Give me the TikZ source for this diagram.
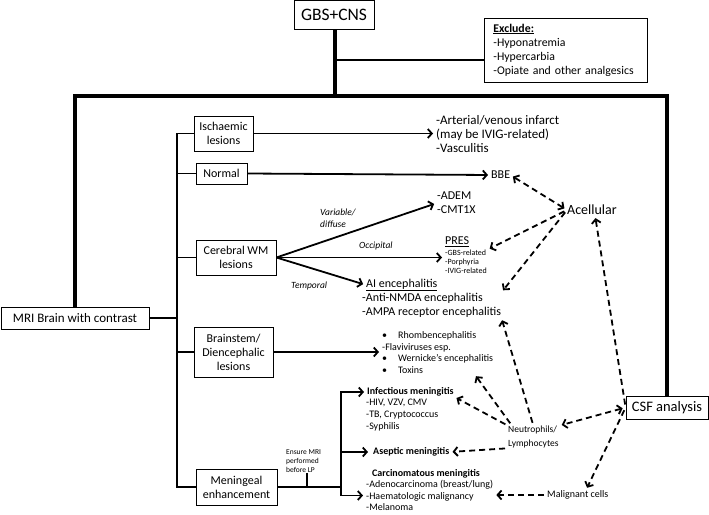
\documentclass[tikz,border=0pt]{standalone}
\usepackage{fontspec}
\setmainfont{Carlito}
\usetikzlibrary{arrows.meta}

\begin{document}
\begin{tikzpicture}[
    x=1pt, y=-1pt,
    >={Straight Barb[length=4pt,width=9pt]},
    % Boxes: thin black outline, centred text
    boxStyle/.style={
        draw, line width=0.8pt,
        align=center, inner sep=0pt,
        font=\fontsize{12}{14}\selectfont
    },
    % Plain text next to the arrows
    textStyle/.style={
        anchor=west, align=left, inner sep=0pt,
        font=\fontsize{12}{14}\selectfont
    },
    smallText/.style={textStyle, font=\fontsize{10}{11.7}\selectfont},
    tinyText/.style={textStyle, font=\fontsize{7.5}{9}\selectfont},
    % Italic labels on the arrows
    labelStyle/.style={textStyle, font=\fontsize{9.5}{12}\selectfont\itshape},
    thickLine/.style={line width=4.5pt},
    plainLine/.style={line width=1.8pt},
    solidArrow/.style={plainLine, ->, shorten >=3pt},
    dashArrow/.style={
        line width=1.8pt, ->,
        dash pattern=on 6pt off 4pt,
        shorten >=3pt, shorten <=3pt
    }
]
\useasboundingbox (0,0) rectangle (709,514);

%--- Top of the tree ---
\node[boxStyle, minimum width=80, minimum height=29,
      font=\fontsize{17.5}{20}\selectfont] (gbs) at (334,15) {GBS+CNS};
\node[boxStyle, anchor=west, text width=145pt, inner xsep=9pt, minimum height=64,
      align=left, font=\fontsize{11.8}{14}\selectfont] (exclude) at (484,50)
    {\textbf{\underline{Exclude:}}\\-Hyponatremia\\-Hypercarbia\\-Opiate and other analgesics};

%--- The two branches ---
\node[boxStyle, minimum width=148, minimum height=22,
      font=\fontsize{13}{15}\selectfont] (mri) at (75,318) {MRI Brain with contrast};
\node[boxStyle, minimum width=82, minimum height=23,
      font=\fontsize{14.5}{16}\selectfont] (csf) at (667,407.5) {CSF analysis};

%--- MRI findings ---
\node[boxStyle, minimum width=59, minimum height=35] (isch)   at (223.5,133.5) {Ischaemic\\lesions};
\node[boxStyle, minimum width=51, minimum height=21] (normal) at (221.5,173.5) {Normal};
\node[boxStyle, minimum width=80, minimum height=35] (cwm)    at (236,257.5)   {Cerebral WM\\lesions};
\node[boxStyle, minimum width=79, minimum height=50] (brain)  at (233.5,352)   {Brainstem/\\Diencephalic\\lesions};
\node[boxStyle, minimum width=81, minimum height=36] (mening) at (236.5,487)   {Meningeal\\enhancement};

%--- Diagnoses ---
\node[textStyle, font=\fontsize{13}{14}\selectfont] (infarct) at (436,134)
    {-Arterial/venous infarct\\(may be IVIG-related)\\-Vasculitis};
\node[textStyle] (bbe)     at (491,175) {BBE};
\node[textStyle] (adem)    at (437,203) {-ADEM\\-CMT1X};
\node[textStyle] (preshead) at (445,242) {\underline{PRES}};
\node[tinyText, font=\fontsize{8}{9}\selectfont] (preslist) at (445,262) {-GBS-related\\-Porphyria\\-IVIG-related};
\node[textStyle] (aihead) at (366,285) {\underline{AI encephalitis}};
\node[textStyle] (ailist) at (362,305)
    {-Anti-NMDA encephalitis\\-AMPA receptor encephalitis};
\node[smallText] (bslist) at (382,352.5)
    {\makebox[16pt][l]{\textbullet}Rhombencephalitis\\-Flaviviruses esp.\\
     \makebox[16pt][l]{\textbullet}Wernicke’s encephalitis\\\makebox[16pt][l]{\textbullet}Toxins};
\node[smallText] (infhead)   at (367,392) {\textbf{Infectious meningitis}};
\node[smallText] (inflist)   at (366,415) {-HIV, VZV, CMV\\-TB, Cryptococcus\\-Syphilis};
\node[smallText] (aseptic)   at (373,452) {\textbf{Aseptic meningitis}};
\node[smallText] (carchead)  at (372,474) {\textbf{Carcinomatous meningitis}};
\node[smallText] (carclist)  at (366,495.5)
    {-Adenocarcinoma (breast/lung)\\-Haematologic malignancy\\-Melanoma};

%--- CSF findings ---
\node[textStyle, font=\fontsize{14}{16}\selectfont] (acell) at (567,210) {Acellular};
\node[textStyle, font=\fontsize{9.5}{14}\selectfont] (neutro) at (508,437) {Neutrophils/\\Lymphocytes};
\node[textStyle, font=\fontsize{10}{10}\selectfont] (malig) at (547,495) {Malignant cells};

%--- Labels ---
\node[labelStyle] (lblVar)  at (320,218) {Variable/\\diffuse};
\node[labelStyle] (lblOcc)  at (359,246) {Occipital};
\node[labelStyle] (lblTemp) at (291,286) {Temporal};
\node[tinyText]   (ensure)  at (286,461) {Ensure MRI\\performed\\before LP};

%-----------------------
%        Edges
%-----------------------
\coordinate (topM)   at (335,96);
\coordinate (topL)   at (75,96);
\coordinate (topR)   at (667,96);
\coordinate (exJoin) at (335,60);
\coordinate (busTop) at (177,133.5);
\coordinate (mBus)   at (341,487);
\coordinate (tick)   at (307,473);

% (1) GBS+CNS splits into MRI and CSF
\draw[thickLine] (gbs.south -| topM) -- (topM);
\draw[thickLine] (mri.north) -- (topL) -- (topR) -- (csf.north);

% (2) Exclude first
\draw[plainLine] (exJoin) -- (exJoin -| exclude.west);

% (3) MRI -> findings
\draw[plainLine] (mri.east) -- (mri.east -| busTop);
\draw[plainLine] (isch.west) -| (busTop |- mening.west) -- (mening.west);
\foreach \b in {normal, cwm, brain}
    \draw[plainLine] (\b.west -| busTop) -- (\b.west);

% (4) Findings -> diagnoses
\draw[solidArrow] (isch.east) -- (isch.east -| infarct.west);
\draw[solidArrow] (normal.east) -- (bbe.west);
\draw[solidArrow] (cwm.east) -- (adem.west);
\draw[solidArrow] (cwm.east) -- (cwm.east -| preslist.west);
\draw[solidArrow] (cwm.east) -- (aihead.west);
\draw[solidArrow] (brain.east) -- (brain.east -| bslist.west);

% (5) Meningeal enhancement -> meningitis
\draw[plainLine] (mening.east) -- (mBus);
\draw[plainLine] (tick) -- (tick |- mBus);
\draw[solidArrow] (mBus) |- (infhead.west);
\draw[solidArrow, shorten >=5pt] (mBus) |- (aseptic.west);
\draw[solidArrow] (mBus) |- (carclist.west);

% (6) Acellular CSF
\draw[dashArrow, <->] (acell.west) -- (bbe.east);
\draw[dashArrow] (acell.west) -- (preslist.north east);
\draw[dashArrow] (acell.west) -- (ailist.north east);

% (7) CSF analysis -> cells
\draw[dashArrow] (csf.west) -- ([xshift=3pt]acell.south);
\draw[dashArrow, <->] (csf.west) -- (neutro.north east);
\draw[dashArrow] (csf.west) -- ([xshift=8pt]malig.north);
\draw[dashArrow] (malig.west) -- (malig.west -| carclist.east);

% (8) Neutrophils/Lymphocytes
\draw[dashArrow] (neutro.north) -- (ailist.south east);
\draw[dashArrow] ([xshift=4pt]neutro.north west) -- ([xshift=-19pt]bslist.south east);
\draw[dashArrow] (neutro.north west) -- (infhead.south east);
\draw[dashArrow] (neutro.south west) -- (aseptic.east);
\end{tikzpicture}
\end{document}
